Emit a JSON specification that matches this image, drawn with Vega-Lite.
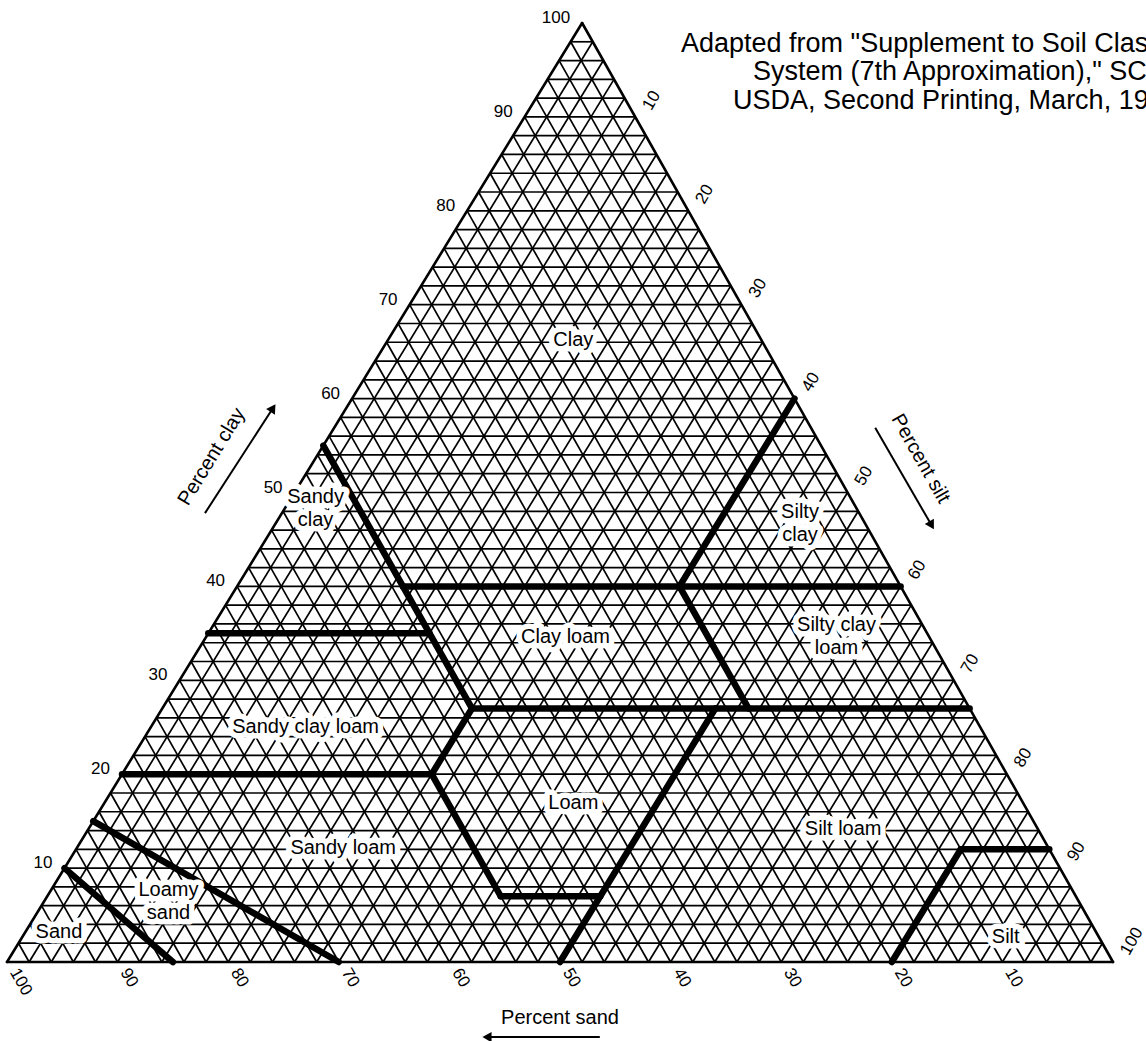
{
  "$schema": "https://vega.github.io/schema/vega-lite/v6.json",
  "width": 1106,
  "height": 939,
  "autosize": {"type": "none"},
  "padding": {"left": 7, "top": 23, "right": 33, "bottom": 79},
  "background": "white",
  "config": {"view": {"stroke": null}},
  "datasets": {
    "grid": [
      {"n": 2, "m": 98, "a": 1.04, "b": 99.04, "z": 0},
      {"n": 4, "m": 96, "a": 2.08, "b": 98.08, "z": 0},
      {"n": 6, "m": 94, "a": 3.12, "b": 97.12, "z": 0},
      {"n": 8, "m": 92, "a": 4.16, "b": 96.16, "z": 0},
      {"n": 10, "m": 90, "a": 5.2, "b": 95.2, "z": 0},
      {"n": 12, "m": 88, "a": 6.24, "b": 94.24, "z": 0},
      {"n": 14, "m": 86, "a": 7.28, "b": 93.28, "z": 0},
      {"n": 16, "m": 84, "a": 8.32, "b": 92.32, "z": 0},
      {"n": 18, "m": 82, "a": 9.36, "b": 91.36, "z": 0},
      {"n": 20, "m": 80, "a": 10.4, "b": 90.4, "z": 0},
      {"n": 22, "m": 78, "a": 11.44, "b": 89.44, "z": 0},
      {"n": 24, "m": 76, "a": 12.48, "b": 88.48, "z": 0},
      {"n": 26, "m": 74, "a": 13.52, "b": 87.52, "z": 0},
      {"n": 28, "m": 72, "a": 14.56, "b": 86.56, "z": 0},
      {"n": 30, "m": 70, "a": 15.6, "b": 85.6, "z": 0},
      {"n": 32, "m": 68, "a": 16.64, "b": 84.64, "z": 0},
      {"n": 34, "m": 66, "a": 17.68, "b": 83.68, "z": 0},
      {"n": 36, "m": 64, "a": 18.72, "b": 82.72, "z": 0},
      {"n": 38, "m": 62, "a": 19.76, "b": 81.76, "z": 0},
      {"n": 40, "m": 60, "a": 20.8, "b": 80.8, "z": 0},
      {"n": 42, "m": 58, "a": 21.84, "b": 79.84, "z": 0},
      {"n": 44, "m": 56, "a": 22.88, "b": 78.88, "z": 0},
      {"n": 46, "m": 54, "a": 23.92, "b": 77.92, "z": 0},
      {"n": 48, "m": 52, "a": 24.96, "b": 76.96, "z": 0},
      {"n": 50, "m": 50, "a": 26, "b": 76, "z": 0},
      {"n": 52, "m": 48, "a": 27.04, "b": 75.04, "z": 0},
      {"n": 54, "m": 46, "a": 28.08, "b": 74.08, "z": 0},
      {"n": 56, "m": 44, "a": 29.12, "b": 73.12, "z": 0},
      {"n": 58, "m": 42, "a": 30.16, "b": 72.16, "z": 0},
      {"n": 60, "m": 40, "a": 31.2, "b": 71.2, "z": 0},
      {"n": 62, "m": 38, "a": 32.24, "b": 70.24, "z": 0},
      {"n": 64, "m": 36, "a": 33.28, "b": 69.28, "z": 0},
      {"n": 66, "m": 34, "a": 34.32, "b": 68.32, "z": 0},
      {"n": 68, "m": 32, "a": 35.36, "b": 67.36, "z": 0},
      {"n": 70, "m": 30, "a": 36.4, "b": 66.4, "z": 0},
      {"n": 72, "m": 28, "a": 37.44, "b": 65.44, "z": 0},
      {"n": 74, "m": 26, "a": 38.48, "b": 64.48, "z": 0},
      {"n": 76, "m": 24, "a": 39.52, "b": 63.52, "z": 0},
      {"n": 78, "m": 22, "a": 40.56, "b": 62.56, "z": 0},
      {"n": 80, "m": 20, "a": 41.6, "b": 61.6, "z": 0},
      {"n": 82, "m": 18, "a": 42.64, "b": 60.64, "z": 0},
      {"n": 84, "m": 16, "a": 43.68, "b": 59.68, "z": 0},
      {"n": 86, "m": 14, "a": 44.72, "b": 58.72, "z": 0},
      {"n": 88, "m": 12, "a": 45.76, "b": 57.76, "z": 0},
      {"n": 90, "m": 10, "a": 46.8, "b": 56.8, "z": 0},
      {"n": 92, "m": 8, "a": 47.84, "b": 55.84, "z": 0},
      {"n": 94, "m": 6, "a": 48.88, "b": 54.88, "z": 0},
      {"n": 96, "m": 4, "a": 49.92, "b": 53.92, "z": 0},
      {"n": 98, "m": 2, "a": 50.96, "b": 52.96, "z": 0}
    ],
    "outline": [
      {"x": 0, "y": 0, "x2": 100, "y2": 0},
      {"x": 0, "y": 0, "x2": 52, "y2": 100},
      {"x": 100, "y": 0, "x2": 52, "y2": 100}
    ],
    "boundaries": [
      {"x": 15, "y": 0, "x2": 5.2, "y2": 10},
      {"x": 30, "y": 0, "x2": 7.8, "y2": 15},
      {"x": 10.4, "y": 20, "x2": 38.4, "y2": 20},
      {"x": 38.4, "y": 20, "x2": 44.64, "y2": 7},
      {"x": 44.64, "y": 7, "x2": 53.64, "y2": 7},
      {"x": 50, "y": 0, "x2": 64.04, "y2": 27},
      {"x": 38.4, "y": 20, "x2": 42.04, "y2": 27},
      {"x": 42.04, "y": 27, "x2": 87.04, "y2": 27},
      {"x": 42.04, "y": 27, "x2": 28.6, "y2": 55},
      {"x": 18.2, "y": 35, "x2": 38.2, "y2": 35},
      {"x": 35.8, "y": 40, "x2": 80.8, "y2": 40},
      {"x": 60.8, "y": 40, "x2": 71.2, "y2": 60},
      {"x": 67.04, "y": 27, "x2": 60.8, "y2": 40},
      {"x": 80, "y": 0, "x2": 86.24, "y2": 12},
      {"x": 86.24, "y": 12, "x2": 94.24, "y2": 12}
    ],
    "classes": [
      {"name": "Clay", "x": 51.2, "y": 66.2},
      {"name": "Silty\nclay", "x": 71.7, "y": 47.9},
      {"name": "Sandy\nclay", "x": 27.9, "y": 49.5},
      {"name": "Clay loam", "x": 50.5, "y": 34.6},
      {"name": "Silty clay\nloam", "x": 75.0, "y": 35.9},
      {"name": "Sandy clay loam", "x": 27.0, "y": 25.0},
      {"name": "Loam", "x": 51.2, "y": 16.9},
      {"name": "Silt loam", "x": 75.6, "y": 14.2},
      {"name": "Sandy loam", "x": 30.4, "y": 12.1},
      {"name": "Loamy\nsand", "x": 14.6, "y": 7.7},
      {"name": "Sand", "x": 4.7, "y": 3.2},
      {"name": "Silt", "x": 90.3, "y": 2.7}
    ],
    "clayTicks": [
      {"v": "10", "x": 5.2, "y": 10},
      {"v": "20", "x": 10.4, "y": 20},
      {"v": "30", "x": 15.6, "y": 30},
      {"v": "40", "x": 20.8, "y": 40},
      {"v": "50", "x": 26, "y": 50},
      {"v": "60", "x": 31.2, "y": 60},
      {"v": "70", "x": 36.4, "y": 70},
      {"v": "80", "x": 41.6, "y": 80},
      {"v": "90", "x": 46.8, "y": 90},
      {"v": "100", "x": 52, "y": 100}
    ],
    "siltTicks": [
      {"v": "10", "x": 56.8, "y": 90},
      {"v": "20", "x": 61.6, "y": 80},
      {"v": "30", "x": 66.4, "y": 70},
      {"v": "40", "x": 71.2, "y": 60},
      {"v": "50", "x": 76, "y": 50},
      {"v": "60", "x": 80.8, "y": 40},
      {"v": "70", "x": 85.6, "y": 30},
      {"v": "80", "x": 90.4, "y": 20},
      {"v": "90", "x": 95.2, "y": 10},
      {"v": "100", "x": 100, "y": 0}
    ],
    "sandTicks": [
      {"v": "100", "x": 0, "y": 0},
      {"v": "90", "x": 10, "y": 0},
      {"v": "80", "x": 20, "y": 0},
      {"v": "70", "x": 30, "y": 0},
      {"v": "60", "x": 40, "y": 0},
      {"v": "50", "x": 50, "y": 0},
      {"v": "40", "x": 60, "y": 0},
      {"v": "30", "x": 70, "y": 0},
      {"v": "20", "x": 80, "y": 0},
      {"v": "10", "x": 90, "y": 0}
    ],
    "arrows": [
      {"x": 17.9, "y": 47.8, "x2": 24.05, "y2": 59.0},
      {"x": 78.5, "y": 56.9, "x2": 83.6, "y2": 46.5},
      {"x": 53.6, "y": -8.0, "x2": 43.4, "y2": -8.0}
    ],
    "source": [
      {"line": "Adapted from \"Supplement to Soil Classification", "x": 60.94, "y": 97.76},
      {"line": "System (7th Approximation),\" SCS,", "x": 67.45, "y": 94.73},
      {"line": "USDA, Second Printing, March, 1967.", "x": 65.64, "y": 91.69}
    ]
  },
  "layer": [
    {
      "data": {"name": "grid"},
      "mark": {"type": "rule", "color": "black", "strokeWidth": 1.7},
      "encoding": {
        "x": {"field": "a", "type": "quantitative", "scale": {"domain": [0, 100], "nice": false, "zero": false}, "axis": null},
        "x2": {"field": "b"},
        "y": {"field": "n", "type": "quantitative", "scale": {"domain": [0, 100], "nice": false, "zero": false}, "axis": null},
        "y2": {"field": "n"}
      }
    },
    {
      "data": {"name": "grid"},
      "mark": {"type": "rule", "color": "black", "strokeWidth": 1.7},
      "encoding": {
        "x": {"field": "n", "type": "quantitative", "scale": {"domain": [0, 100], "nice": false, "zero": false}, "axis": null},
        "x2": {"field": "a"},
        "y": {"field": "z", "type": "quantitative", "scale": {"domain": [0, 100], "nice": false, "zero": false}, "axis": null},
        "y2": {"field": "n"}
      }
    },
    {
      "data": {"name": "grid"},
      "mark": {"type": "rule", "color": "black", "strokeWidth": 1.7},
      "encoding": {
        "x": {"field": "m", "type": "quantitative", "scale": {"domain": [0, 100], "nice": false, "zero": false}, "axis": null},
        "x2": {"field": "b"},
        "y": {"field": "z", "type": "quantitative", "scale": {"domain": [0, 100], "nice": false, "zero": false}, "axis": null},
        "y2": {"field": "n"}
      }
    },
    {
      "data": {"name": "outline"},
      "mark": {"type": "rule", "color": "black", "strokeWidth": 2.6, "strokeCap": "round"},
      "encoding": {
        "x": {"field": "x", "type": "quantitative", "scale": {"domain": [0, 100], "nice": false, "zero": false}, "axis": null},
        "x2": {"field": "x2"},
        "y": {"field": "y", "type": "quantitative", "scale": {"domain": [0, 100], "nice": false, "zero": false}, "axis": null},
        "y2": {"field": "y2"}
      }
    },
    {
      "data": {"name": "boundaries"},
      "mark": {"type": "rule", "color": "black", "strokeWidth": 6.5, "strokeCap": "round"},
      "encoding": {
        "x": {"field": "x", "type": "quantitative", "scale": {"domain": [0, 100], "nice": false, "zero": false}, "axis": null},
        "x2": {"field": "x2"},
        "y": {"field": "y", "type": "quantitative", "scale": {"domain": [0, 100], "nice": false, "zero": false}, "axis": null},
        "y2": {"field": "y2"}
      }
    },
    {
      "data": {"name": "classes"},
      "mark": {"type": "text", "font": "Liberation Sans", "fontSize": 20, "lineBreak": "\n", "lineHeight": 23, "align": "center", "baseline": "middle", "color": "white", "stroke": "white", "strokeWidth": 11, "strokeJoin": "round"},
      "encoding": {
        "x": {"field": "x", "type": "quantitative", "scale": {"domain": [0, 100], "nice": false, "zero": false}, "axis": null},
        "y": {"field": "y", "type": "quantitative", "scale": {"domain": [0, 100], "nice": false, "zero": false}, "axis": null},
        "text": {"field": "name", "type": "nominal"}
      }
    },
    {
      "data": {"name": "classes"},
      "mark": {"type": "text", "font": "Liberation Sans", "fontSize": 20, "lineBreak": "\n", "lineHeight": 23, "align": "center", "baseline": "middle", "color": "black"},
      "encoding": {
        "x": {"field": "x", "type": "quantitative", "scale": {"domain": [0, 100], "nice": false, "zero": false}, "axis": null},
        "y": {"field": "y", "type": "quantitative", "scale": {"domain": [0, 100], "nice": false, "zero": false}, "axis": null},
        "text": {"field": "name", "type": "nominal"}
      }
    },
    {
      "data": {"name": "clayTicks"},
      "mark": {"type": "text", "font": "Liberation Sans", "fontSize": 17, "align": "right", "baseline": "middle", "dx": -12, "dy": -5, "color": "black"},
      "encoding": {
        "x": {"field": "x", "type": "quantitative", "scale": {"domain": [0, 100], "nice": false, "zero": false}, "axis": null},
        "y": {"field": "y", "type": "quantitative", "scale": {"domain": [0, 100], "nice": false, "zero": false}, "axis": null},
        "text": {"field": "v", "type": "nominal"}
      }
    },
    {
      "data": {"name": "siltTicks"},
      "mark": {"type": "text", "font": "Liberation Sans", "fontSize": 17, "align": "left", "baseline": "middle", "angle": -60, "dx": 13, "dy": 6, "color": "black"},
      "encoding": {
        "x": {"field": "x", "type": "quantitative", "scale": {"domain": [0, 100], "nice": false, "zero": false}, "axis": null},
        "y": {"field": "y", "type": "quantitative", "scale": {"domain": [0, 100], "nice": false, "zero": false}, "axis": null},
        "text": {"field": "v", "type": "nominal"}
      }
    },
    {
      "data": {"name": "sandTicks"},
      "mark": {"type": "text", "font": "Liberation Sans", "fontSize": 17, "align": "left", "baseline": "middle", "angle": 60, "dx": 10, "dy": -2, "color": "black"},
      "encoding": {
        "x": {"field": "x", "type": "quantitative", "scale": {"domain": [0, 100], "nice": false, "zero": false}, "axis": null},
        "y": {"field": "y", "type": "quantitative", "scale": {"domain": [0, 100], "nice": false, "zero": false}, "axis": null},
        "text": {"field": "v", "type": "nominal"}
      }
    },
    {
      "data": {"name": "arrows"},
      "mark": {"type": "rule", "color": "black", "strokeWidth": 2},
      "encoding": {
        "x": {"field": "x", "type": "quantitative", "scale": {"domain": [0, 100], "nice": false, "zero": false}, "axis": null},
        "x2": {"field": "x2"},
        "y": {"field": "y", "type": "quantitative", "scale": {"domain": [0, 100], "nice": false, "zero": false}, "axis": null},
        "y2": {"field": "y2"}
      }
    },
    {
      "data": {"values": [{"x": 24.05, "y": 59.0}]},
      "mark": {"type": "point", "shape": "triangle-up", "filled": true, "color": "black", "size": 110, "angle": 33, "opacity": 1},
      "encoding": {
        "x": {"field": "x", "type": "quantitative", "scale": {"domain": [0, 100], "nice": false, "zero": false}, "axis": null},
        "y": {"field": "y", "type": "quantitative", "scale": {"domain": [0, 100], "nice": false, "zero": false}, "axis": null}
      }
    },
    {
      "data": {"values": [{"x": 83.6, "y": 46.5}]},
      "mark": {"type": "point", "shape": "triangle-down", "filled": true, "color": "black", "size": 110, "angle": -30, "opacity": 1},
      "encoding": {
        "x": {"field": "x", "type": "quantitative", "scale": {"domain": [0, 100], "nice": false, "zero": false}, "axis": null},
        "y": {"field": "y", "type": "quantitative", "scale": {"domain": [0, 100], "nice": false, "zero": false}, "axis": null}
      }
    },
    {
      "data": {"values": [{"x": 43.4, "y": -8.0}]},
      "mark": {"type": "point", "shape": "triangle-left", "filled": true, "color": "black", "size": 110, "opacity": 1},
      "encoding": {
        "x": {"field": "x", "type": "quantitative", "scale": {"domain": [0, 100], "nice": false, "zero": false}, "axis": null},
        "y": {"field": "y", "type": "quantitative", "scale": {"domain": [0, 100], "nice": false, "zero": false}, "axis": null}
      }
    },
    {
      "data": {"values": [{"t": "Percent clay", "x": 18.5, "y": 53.8}]},
      "mark": {"type": "text", "font": "Liberation Sans", "fontSize": 20, "align": "center", "baseline": "middle", "angle": -58.5, "color": "black"},
      "encoding": {
        "x": {"field": "x", "type": "quantitative", "scale": {"domain": [0, 100], "nice": false, "zero": false}, "axis": null},
        "y": {"field": "y", "type": "quantitative", "scale": {"domain": [0, 100], "nice": false, "zero": false}, "axis": null},
        "text": {"field": "t", "type": "nominal"}
      }
    },
    {
      "data": {"values": [{"t": "Percent silt", "x": 82.6, "y": 53.6}]},
      "mark": {"type": "text", "font": "Liberation Sans", "fontSize": 20, "align": "center", "baseline": "middle", "angle": 60.5, "color": "black"},
      "encoding": {
        "x": {"field": "x", "type": "quantitative", "scale": {"domain": [0, 100], "nice": false, "zero": false}, "axis": null},
        "y": {"field": "y", "type": "quantitative", "scale": {"domain": [0, 100], "nice": false, "zero": false}, "axis": null},
        "text": {"field": "t", "type": "nominal"}
      }
    },
    {
      "data": {"values": [{"t": "Percent sand", "x": 50.0, "y": -5.96}]},
      "mark": {"type": "text", "font": "Liberation Sans", "fontSize": 20, "align": "center", "baseline": "middle", "color": "black"},
      "encoding": {
        "x": {"field": "x", "type": "quantitative", "scale": {"domain": [0, 100], "nice": false, "zero": false}, "axis": null},
        "y": {"field": "y", "type": "quantitative", "scale": {"domain": [0, 100], "nice": false, "zero": false}, "axis": null},
        "text": {"field": "t", "type": "nominal"}
      }
    },
    {
      "data": {"name": "source"},
      "mark": {"type": "text", "font": "Liberation Sans", "fontSize": 27, "align": "left", "baseline": "middle", "color": "black"},
      "encoding": {
        "x": {"field": "x", "type": "quantitative", "scale": {"domain": [0, 100], "nice": false, "zero": false}, "axis": null},
        "y": {"field": "y", "type": "quantitative", "scale": {"domain": [0, 100], "nice": false, "zero": false}, "axis": null},
        "text": {"field": "line", "type": "nominal"}
      }
    }
  ]
}
